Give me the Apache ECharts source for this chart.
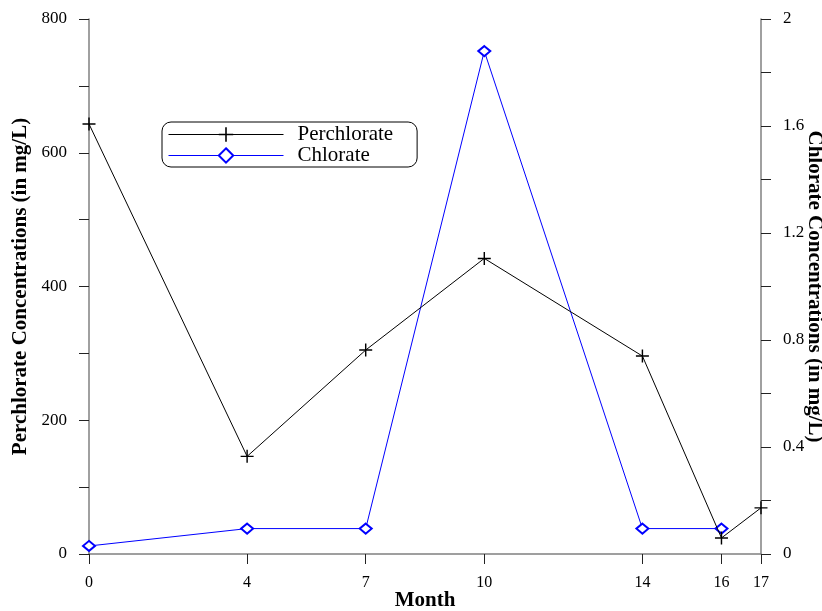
<!DOCTYPE html>
<html>
<head>
<meta charset="utf-8">
<script src="https://cdn.jsdelivr.net/npm/echarts@6/dist/echarts.min.js"></script>
<style>html,body{margin:0;padding:0;background:#fff}#c{width:822px;height:611px}</style>
</head>
<body>
<div id="c"></div>
<script>
var monthTicks = [0, 4, 7, 10, 14, 16, 17];
var perchlorateMonths = [0, 4, 7, 10, 14, 16, 17];
var perchlorate = [643, 146, 305, 442, 296, 24, 69];
var chlorateMonths = [0, 4, 7, 10, 14, 16];
var chlorate = [0.03, 0.095, 0.095, 1.88, 0.095, 0.095];

var FONT = '"Liberation Serif", "Times New Roman", serif';
var plusPath = 'path://M-1.1,-10 L1.1,-10 L1.1,-1.1 L10,-1.1 L10,1.1 L1.1,1.1 L1.1,10 L-1.1,10 L-1.1,1.1 L-10,1.1 L-10,-1.1 L-1.1,-1.1 Z';

function zip(xs, ys) { return xs.map(function (x, i) { return [x, ys[i]]; }); }

var axisLineStyle = { color: '#808080', width: 1.5 };
var tickStyle = { color: '#222', width: 1 };

var chart = echarts.init(document.getElementById('c'), null, { renderer: 'canvas' });
chart.setOption({
  animation: false,
  backgroundColor: '#fff',
  textStyle: { fontFamily: FONT },
  grid: { left: 89, right: 61, top: 19, bottom: 57, containLabel: false, outerBoundsMode: 'none' },
  legend: {
    orient: 'vertical',
    left: 162,
    top: 122,
    padding: [2, 24, 1, 6],
    itemWidth: 115,
    itemHeight: 18,
    itemGap: 0,
    borderColor: '#000',
    borderWidth: 1,
    borderRadius: 9,
    lineStyle: { width: 1 },
    textStyle: { fontFamily: FONT, fontSize: 21, color: '#000', padding: [0, 0, 0, 9] },
    data: ['Perchlorate', 'Chlorate']
  },
  xAxis: {
    type: 'value',
    min: 0, max: 17,
    name: 'Month',
    nameLocation: 'middle',
    nameGap: 36,
    nameMoveOverlap: false,
    nameTextStyle: { fontFamily: FONT, fontSize: 21, fontWeight: 'bold', color: '#000' },
    splitLine: { show: false },
    axisLine: { lineStyle: axisLineStyle, onZero: false },
    axisTick: { show: true, inside: false, length: 10, lineStyle: tickStyle, customValues: monthTicks },
    axisLabel: { fontFamily: FONT, fontSize: 16, color: '#000', margin: 21, customValues: monthTicks }
  },
  yAxis: [
    {
      type: 'value',
      position: 'left',
      min: 0, max: 800, interval: 100,
      name: 'Perchlorate Concentrations (in mg/L)',
      nameLocation: 'middle',
      nameGap: 58,
      nameMoveOverlap: false,
      nameTextStyle: { fontFamily: FONT, fontSize: 21, fontWeight: 'bold', color: '#000' },
      splitLine: { show: false },
      axisLine: { show: true, lineStyle: axisLineStyle, onZero: false },
      axisTick: { show: true, length: 10, lineStyle: tickStyle },
      axisLabel: {
        fontFamily: FONT, fontSize: 17, color: '#000', margin: 22,
        formatter: function (v) { return (v % 200 === 0) ? String(v) : ''; }
      }
    },
    {
      type: 'value',
      position: 'right',
      min: 0, max: 2, interval: 0.2,
      name: 'Chlorate Concentrations (in mg/L)',
      nameLocation: 'middle',
      nameGap: 43,
      nameRotate: -90,
      nameMoveOverlap: false,
      nameTextStyle: { fontFamily: FONT, fontSize: 21, fontWeight: 'bold', color: '#000' },
      splitLine: { show: false },
      axisLine: { show: true, lineStyle: axisLineStyle, onZero: false },
      axisTick: { show: true, length: 10, lineStyle: tickStyle },
      axisLabel: {
        fontFamily: FONT, fontSize: 17, color: '#000', margin: 22,
        formatter: function (v) {
          return (Math.round(v * 5) % 2 === 0) ? String(Number(v.toFixed(1))) : '';
        }
      }
    }
  ],
  series: [
    {
      name: 'Perchlorate',
      type: 'line',
      yAxisIndex: 0,
      data: zip(perchlorateMonths, perchlorate),
      symbol: plusPath,
      symbolSize: 13,
      showAllSymbol: true,
      lineStyle: { color: '#000', width: 1 },
      itemStyle: { color: '#000' },
      z: 3
    },
    {
      name: 'Chlorate',
      type: 'line',
      yAxisIndex: 1,
      data: zip(chlorateMonths, chlorate),
      symbol: 'diamond',
      symbolSize: [12, 10],
      showAllSymbol: true,
      lineStyle: { color: '#0000ff', width: 1 },
      itemStyle: { color: '#fff', borderColor: '#0000ff', borderWidth: 2 },
      z: 2
    }
  ]
});
</script>
</body>
</html>
